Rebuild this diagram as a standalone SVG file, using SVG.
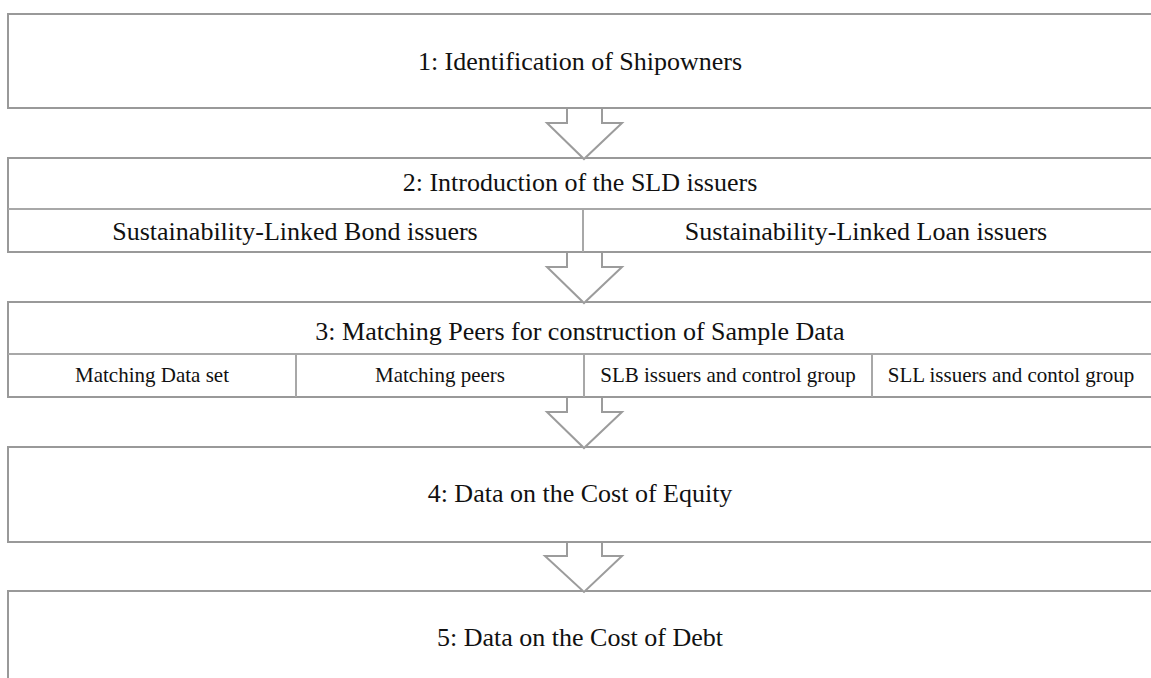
<svg xmlns="http://www.w3.org/2000/svg" width="1151" height="678" viewBox="0 0 1151 678">
  <defs>
    <style>
      .box { fill: #ffffff; stroke: #999999; stroke-width: 2; }
      .div { fill: none; stroke: #a8a8a8; stroke-width: 2; }
      .arrow { fill: #ffffff; stroke: #9c9c9c; stroke-width: 2; stroke-linejoin: miter; }
      text { font-family: "Liberation Serif", Tinos, "DejaVu Serif", serif; fill: #111111; text-anchor: middle; }
      .big { font-size: 26px; }
      .small { font-size: 21px; }
    </style>
  </defs>
  <rect width="1151" height="678" fill="#ffffff"/>

  <!-- Step 1 -->
  <g id="step1">
    <rect class="box" x="8" y="14" width="1160" height="94"/>
    <text class="big" x="580" y="70" font-family="Liberation Serif, serif">1: Identification of Shipowners</text>
  </g>

  <!-- Step 2 -->
  <g id="step2">
    <rect class="box" x="8" y="158" width="1160" height="94"/>
    <line class="div" x1="8" y1="209" x2="1160" y2="209"/>
    <line class="div" x1="583" y1="209" x2="583" y2="252"/>
    <text class="big" x="580" y="191">2: Introduction of the SLD issuers</text>
    <text class="big" x="295" y="240">Sustainability-Linked Bond issuers</text>
    <text class="big" x="866" y="240">Sustainability-Linked Loan issuers</text>
  </g>

  <!-- Step 3 -->
  <g id="step3">
    <rect class="box" x="8" y="302" width="1160" height="95"/>
    <line class="div" x1="8" y1="354" x2="1160" y2="354"/>
    <line class="div" x1="296" y1="354" x2="296" y2="397"/>
    <line class="div" x1="584" y1="354" x2="584" y2="397"/>
    <line class="div" x1="872" y1="354" x2="872" y2="397"/>
    <text class="big" x="580" y="340">3: Matching Peers for construction of Sample Data</text>
    <text class="small" x="152" y="382">Matching Data set</text>
    <text class="small" x="440" y="382">Matching peers</text>
    <text class="small" x="728" y="382">SLB issuers and control group</text>
    <text class="small" x="1011" y="382">SLL issuers and contol group</text>
  </g>

  <!-- Step 4 -->
  <g id="step4">
    <rect class="box" x="8" y="447" width="1160" height="95"/>
    <text class="big" x="580" y="502">4: Data on the Cost of Equity</text>
  </g>

  <!-- Step 5 -->
  <g id="step5">
    <rect class="box" x="8" y="591" width="1160" height="120"/>
    <text class="big" x="580" y="646">5: Data on the Cost of Debt</text>
  </g>

  <!-- Block arrows between steps -->
  <g id="connectors">
    <polyline class="arrow" points="567,109 567,123 547,123 584,159 622,123 602,123 602,109"/>
    <polyline class="arrow" points="567,253 567,267 547,267 584,303 622,267 602,267 602,253"/>
    <polyline class="arrow" points="567,398 567,412 547,412 584,448 622,412 602,412 602,398"/>
    <polyline class="arrow" points="567,543 567,556 545,556 584,592 622,556 602,556 602,543"/>
  </g>
</svg>
